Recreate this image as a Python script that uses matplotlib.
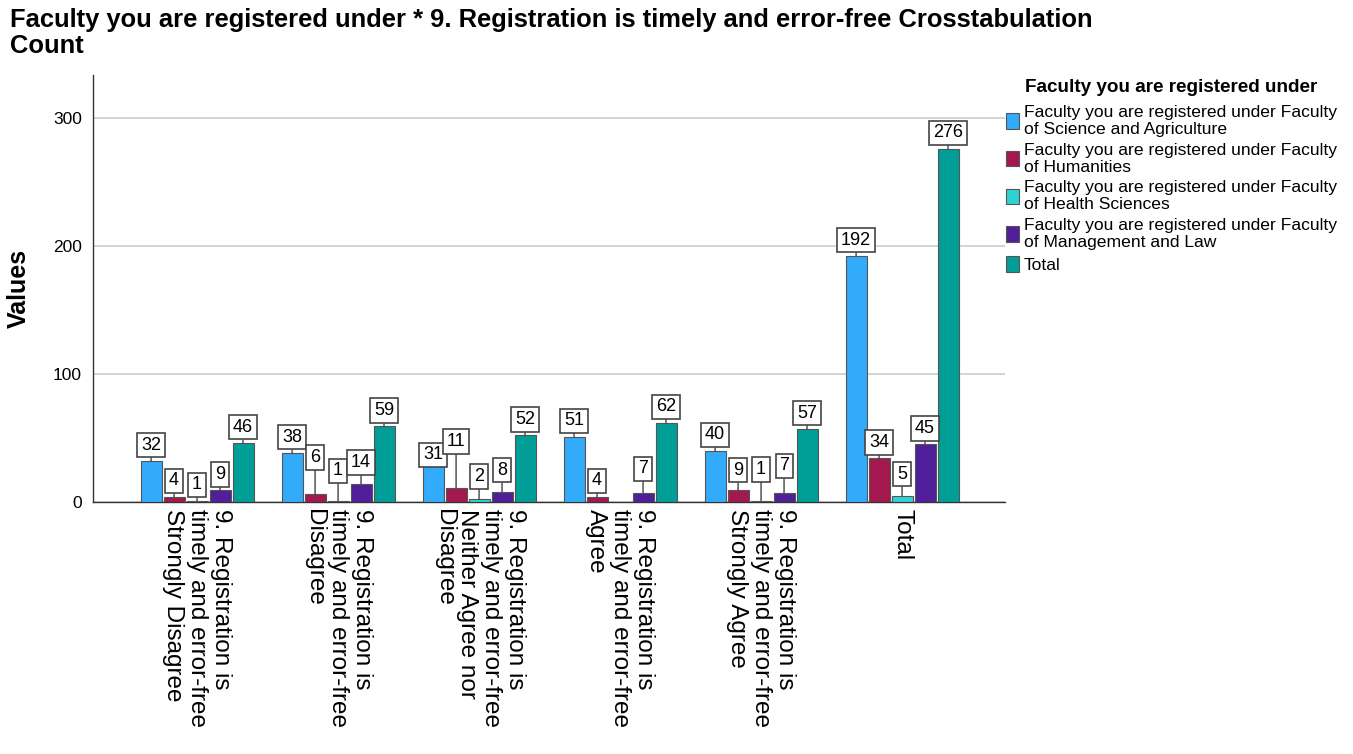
import numpy as np
import matplotlib.pyplot as plt
from matplotlib.patches import Patch

plt.rcParams['font.family'] = ['Liberation Sans', 'DejaVu Sans']

groups = [
    "9. Registration is\ntimely and error-free\nStrongly Disagree",
    "9. Registration is\ntimely and error-free\nDisagree",
    "9. Registration is\ntimely and error-free\nNeither Agree nor\nDisagree",
    "9. Registration is\ntimely and error-free\nAgree",
    "9. Registration is\ntimely and error-free\nStrongly Agree",
    "Total",
]

science = [32, 38, 31, 51, 40, 192]
humanities = [4, 6, 11, 4, 9, 34]
health = [1, 1, 2, np.nan, 1, 5]
management = [9, 14, 8, 7, 7, 45]
total = [46, 59, 52, 62, 57, 276]

series_names = [
    "Faculty you are registered under Faculty\nof Science and Agriculture",
    "Faculty you are registered under Faculty\nof Humanities",
    "Faculty you are registered under Faculty\nof Health Sciences",
    "Faculty you are registered under Faculty\nof Management and Law",
    "Total",
]
series = [science, humanities, health, management, total]
colors = ['#33ABFB', '#A3194F', '#2DD3D1', '#511F9A', '#009E96']

fig = plt.figure(figsize=(13.53, 7.54), dpi=100)
ax = fig.add_axes([93 / 1353, 1 - 502 / 754, 912 / 1353, 427 / 754])

x = np.arange(len(groups))
slot = 0.163
width = 0.149

# extra lift (points) for labels pushed up to clear their neighbours
lift = {(0, 2): -6, (1, 1): 15, (2, 1): 10, (3, 1): 4, (1, 2): 22,
        (2, 2): 5, (3, 2): 4, (3, 3): 6, (1, 4): 3, (2, 4): 11,
        (3, 4): 8, (2, 5): 4}

for k, (vals, col) in enumerate(zip(series, colors)):
    vals = np.array(vals, dtype=float)
    xs = x + (k - 2) * slot
    ok = ~np.isnan(vals)
    ax.bar(xs[ok], vals[ok], width=width, color=col, edgecolor='#555555',
           linewidth=0.8, zorder=3)
    for g in np.where(ok)[0]:
        v = vals[g]
        off = 11.5 + lift.get((k, g), 0)
        ax.annotate(f'{int(v)}', xy=(xs[g], v), xytext=(0, off),
                    textcoords='offset points', ha='center', va='center',
                    fontsize=13, zorder=5,
                    bbox=dict(boxstyle='square,pad=0.2', fc='white',
                              ec='#444444', lw=1.2),
                    arrowprops=dict(arrowstyle='-', color='#444444', lw=1,
                                    shrinkA=0, shrinkB=0))

ax.set_xlim(-0.738, 5.73)
ax.set_ylim(0, 333.6)
ax.set_yticks([0, 100, 200, 300])
ax.yaxis.grid(True, color='#cccccc', linewidth=1.2, zorder=0)
ax.set_axisbelow(True)
ax.tick_params(axis='y', length=0, labelsize=12.5, pad=8)
ax.set_xticks(x)
ax.set_xticklabels(groups, rotation=270, ha='center', va='top',
                   multialignment='left', fontsize=17.5, linespacing=1.1)
ax.tick_params(axis='x', length=0, pad=5)
for side in ['top', 'right']:
    ax.spines[side].set_visible(False)
for side in ['left', 'bottom']:
    ax.spines[side].set_color('#333333')
    ax.spines[side].set_linewidth(1)

ax.set_ylabel('Values', fontsize=18, fontweight='bold', labelpad=16)

fig.text(10 / 1353, 1 - 8 / 754,
         "Faculty you are registered under * 9. Registration is timely and error-free Crosstabulation\nCount",
         ha='left', va='top', fontsize=18.4, fontweight='bold', linespacing=1.1)

# legend heading sits in line with the entry texts
fig.text(1025 / 1353, 1 - 88 / 754, 'Faculty you are registered under',
         ha='left', va='center', fontsize=13.6, fontweight='bold')
handles = [Patch(facecolor=c, edgecolor='#555555', linewidth=0.8) for c in colors]
leg = fig.legend(handles, series_names,
                 loc='upper left', bbox_to_anchor=(990 / 1353, 1 - 89 / 754),
                 frameon=False, fontsize=12.6, handlelength=0.75, handleheight=1.0,
                 handletextpad=0.3, labelspacing=0.33)
for t in leg.get_texts():
    t.set_linespacing(1.17)

fig.savefig('out.png', dpi=100)
